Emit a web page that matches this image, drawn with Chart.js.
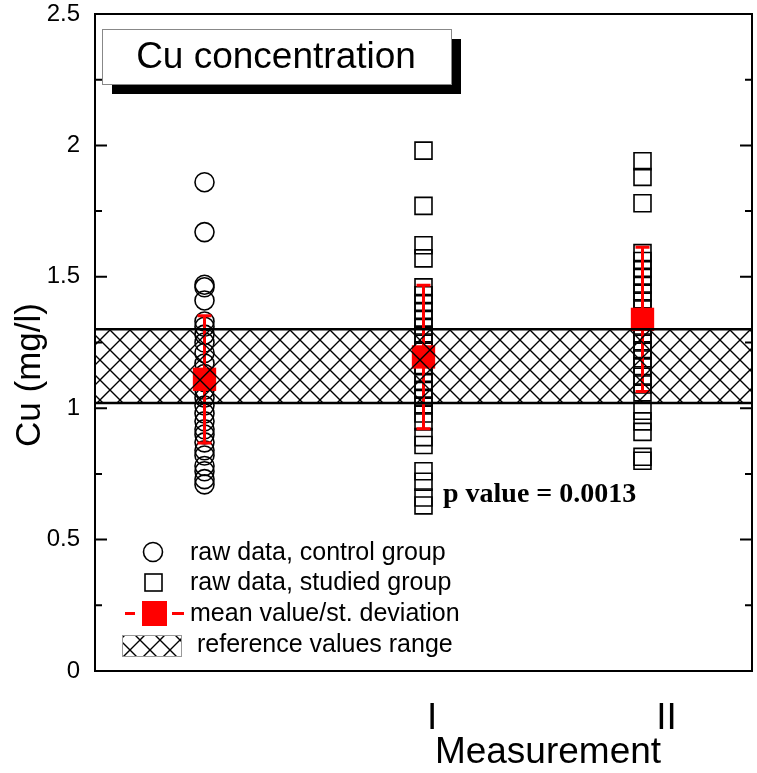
<!DOCTYPE html>
<html>
<head>
<meta charset="utf-8">
<script src="https://cdn.jsdelivr.net/npm/chart.js@4.4.1/dist/chart.umd.min.js"></script>
<style>
  html, body { margin: 0; padding: 0; background: #fff; }
  canvas { display: block; }
</style>
</head>
<body>
<canvas id="cuChart" width="757" height="773"></canvas>
<script>
// x positions of the three groups (control, I, II) on a 0..3 axis
const groupX = [0.5, 1.5, 2.5];
const tickLabels = ['I', 'II'];
const tickPos = [1.54, 2.61];

const controlVals = [1.86, 1.67, 1.47, 1.46, 1.41, 1.33, 1.31, 1.28, 1.25, 1.21, 1.17, 1.13, 1.10, 1.07,
  1.04, 1.01, 0.98, 0.95, 0.92, 0.90, 0.87, 0.84, 0.82, 0.78, 0.76, 0.73, 0.71];
const studiedI = [1.98, 1.77, 1.62, 1.57, 1.46, 1.43, 1.40, 1.37, 1.34, 1.31, 1.28, 1.25, 1.22, 1.19,
  1.16, 1.13, 1.10, 1.07, 1.04, 1.01, 0.98, 0.95, 0.89, 0.86, 0.76, 0.72, 0.66, 0.63];
const studiedII = [1.94, 1.88, 1.78, 1.59, 1.56, 1.53, 1.50, 1.47, 1.44, 1.41, 1.38, 1.35, 1.31, 1.28,
  1.25, 1.22, 1.19, 1.16, 1.12, 1.09, 1.06, 0.99, 0.95, 0.91, 0.815, 0.80];
const means = [1.11, 1.195, 1.338];
const stdDevs = [0.242, 0.273, 0.274];
const refRange = [1.02, 1.30];

const FONT = '"Liberation Sans", Arial, sans-serif';
const canvas = document.getElementById('cuChart');
const ctx = canvas.getContext('2d');

function hatchPattern() {
    const c = document.createElement('canvas');
    c.width = 20; c.height = 20;
    const g = c.getContext('2d');
    g.strokeStyle = '#000';
    g.lineWidth = 1.4;
    g.beginPath();
    g.moveTo(-2, -2); g.lineTo(22, 22);
    g.moveTo(22, -2); g.lineTo(-2, 22);
    g.stroke();
    return ctx.createPattern(c, 'repeat');
}
const hatch = hatchPattern();

const toPoints = (vals, gx) => vals.map(v => ({ x: gx, y: v }));

function noPadding(scale) {
    scale.paddingLeft = 0;
    scale.paddingRight = 0;
    scale.paddingTop = 0;
    scale.paddingBottom = 0;
}

const decor = {
    id: 'decor',
    beforeDatasetDraw(chart, args) {
        if (args.index !== 2) return;
        const { ctx, scales: { x, y } } = chart;
        ctx.save();
        ctx.strokeStyle = '#ff0000';
        ctx.lineWidth = 3;
        means.forEach((m, i) => {
            const px = x.getPixelForValue(groupX[i]);
            const top = y.getPixelForValue(m + stdDevs[i]);
            const bot = y.getPixelForValue(m - stdDevs[i]);
            ctx.beginPath();
            ctx.moveTo(px, top); ctx.lineTo(px, bot);
            ctx.moveTo(px - 7, top); ctx.lineTo(px + 7, top);
            ctx.moveTo(px - 7, bot); ctx.lineTo(px + 7, bot);
            ctx.stroke();
        });
        ctx.restore();
    },
    afterDraw(chart) {
        const { ctx, chartArea: a, scales: { y } } = chart;
        ctx.save();
        // frame
        ctx.strokeStyle = '#000';
        ctx.lineWidth = 2;
        ctx.strokeRect(a.left, a.top, a.right - a.left, a.bottom - a.top);
        // inward ticks, left and right
        for (let v = 0; v <= 2.5001; v += 0.25) {
            const py = y.getPixelForValue(v);
            const len = Math.abs(v / 0.5 - Math.round(v / 0.5)) < 1e-6 ? 12 : 7;
            ctx.beginPath();
            ctx.moveTo(a.left, py); ctx.lineTo(a.left + len, py);
            ctx.moveTo(a.right, py); ctx.lineTo(a.right - len, py);
            ctx.stroke();
        }

        // title box with shadow
        ctx.fillStyle = '#000';
        ctx.fillRect(112, 39, 349, 55);
        ctx.fillStyle = '#fff';
        ctx.fillRect(102, 29, 349, 55);
        ctx.strokeStyle = '#888';
        ctx.lineWidth = 1;
        ctx.strokeRect(102.5, 29.5, 349, 55);
        ctx.fillStyle = '#000';
        ctx.font = '37px ' + FONT;
        ctx.textAlign = 'center';
        ctx.textBaseline = 'middle';
        ctx.fillText('Cu concentration', 276, 58);

        // legend
        ctx.textAlign = 'left';
        ctx.font = '25px ' + FONT;
        ctx.strokeStyle = '#000';
        ctx.lineWidth = 1.6;
        ctx.beginPath();
        ctx.arc(153, 552, 9.5, 0, Math.PI * 2);
        ctx.stroke();
        ctx.fillText('raw data, control group', 190, 553);
        ctx.strokeRect(145, 574, 17, 17);
        ctx.fillText('raw data, studied group', 190, 583);
        ctx.fillStyle = '#ff0000';
        ctx.fillRect(125, 612, 10, 3);
        ctx.fillRect(172, 612, 12, 3);
        ctx.fillRect(142, 601, 25, 25);
        ctx.fillStyle = '#000';
        ctx.fillText('mean value/st. deviation', 190, 614);
        ctx.fillStyle = hatch;
        ctx.fillRect(122, 635, 59, 21);
        ctx.strokeStyle = '#999';
        ctx.lineWidth = 1;
        ctx.strokeRect(122.5, 635.5, 59, 21);
        ctx.fillStyle = '#000';
        ctx.fillText('reference values range', 197, 645);

        // p value
        ctx.font = 'bold 28px "Liberation Serif", "Times New Roman", serif';
        ctx.fillText('p value = 0.0013', 443, 495);

        // axis titles
        ctx.font = '37px ' + FONT;
        ctx.textAlign = 'center';
        ctx.fillText('Measurement', 548, 753);
        ctx.font = '35px ' + FONT;
        ctx.translate(30, 375);
        ctx.rotate(-Math.PI / 2);
        ctx.fillText('Cu (mg/l)', 0, 0);
        ctx.restore();
    }
};

new Chart(ctx, {
    type: 'scatter',
    data: {
        datasets: [
            {
                type: 'line',
                data: [{ x: 0, y: refRange[1] }, { x: 3, y: refRange[1] }],
                borderColor: '#000',
                borderWidth: 2.5,
                pointRadius: 0,
                fill: false
            },
            {
                type: 'line',
                data: [{ x: 0, y: refRange[0] }, { x: 3, y: refRange[0] }],
                borderColor: '#000',
                borderWidth: 2.5,
                pointRadius: 0,
                backgroundColor: hatch,
                fill: '-1'
            },
            {
                data: means.map((m, i) => ({ x: groupX[i], y: m })),
                pointStyle: 'rect',
                pointRadius: 16.5,
                backgroundColor: '#ff0000',
                borderColor: '#ff0000',
                borderWidth: 0
            },
            {
                data: toPoints(studiedI, groupX[1]).concat(toPoints(studiedII, groupX[2])),
                pointStyle: 'rect',
                pointRadius: 12,
                backgroundColor: 'rgba(0,0,0,0)',
                borderColor: '#000',
                borderWidth: 1.6
            },
            {
                data: toPoints(controlVals, groupX[0]),
                pointStyle: 'circle',
                pointRadius: 9.5,
                backgroundColor: 'rgba(0,0,0,0)',
                borderColor: '#000',
                borderWidth: 1.6
            }
        ]
    },
    options: {
        responsive: false,
        animation: false,
        layout: { autoPadding: false, padding: { top: 14, right: 5, left: 0, bottom: 0 } },
        plugins: {
            legend: { display: false },
            tooltip: { enabled: false }
        },
        scales: {
            x: {
                type: 'linear',
                min: 0,
                max: 3,
                grid: { display: false, drawTicks: false },
                border: { display: false },
                afterBuildTicks: scale => {
                    scale.ticks = tickPos.map(v => ({ value: v }));
                },
                afterFit: scale => { scale.height = 102; noPadding(scale); },
                ticks: {
                    autoSkip: false,
                    maxRotation: 0,
                    padding: 26,
                    color: '#000',
                    font: { family: FONT, size: 37 },
                    callback: (v, i) => tickLabels[i]
                }
            },
            y: {
                min: 0,
                max: 2.5,
                grid: { display: false, drawTicks: false },
                border: { display: false },
                afterFit: scale => { scale.width = 95; noPadding(scale); },
                ticks: {
                    stepSize: 0.5,
                    padding: 15,
                    color: '#000',
                    font: { family: FONT, size: 24 },
                    callback: v => String(v)
                }
            }
        }
    },
    plugins: [decor]
});
</script>
</body>
</html>
